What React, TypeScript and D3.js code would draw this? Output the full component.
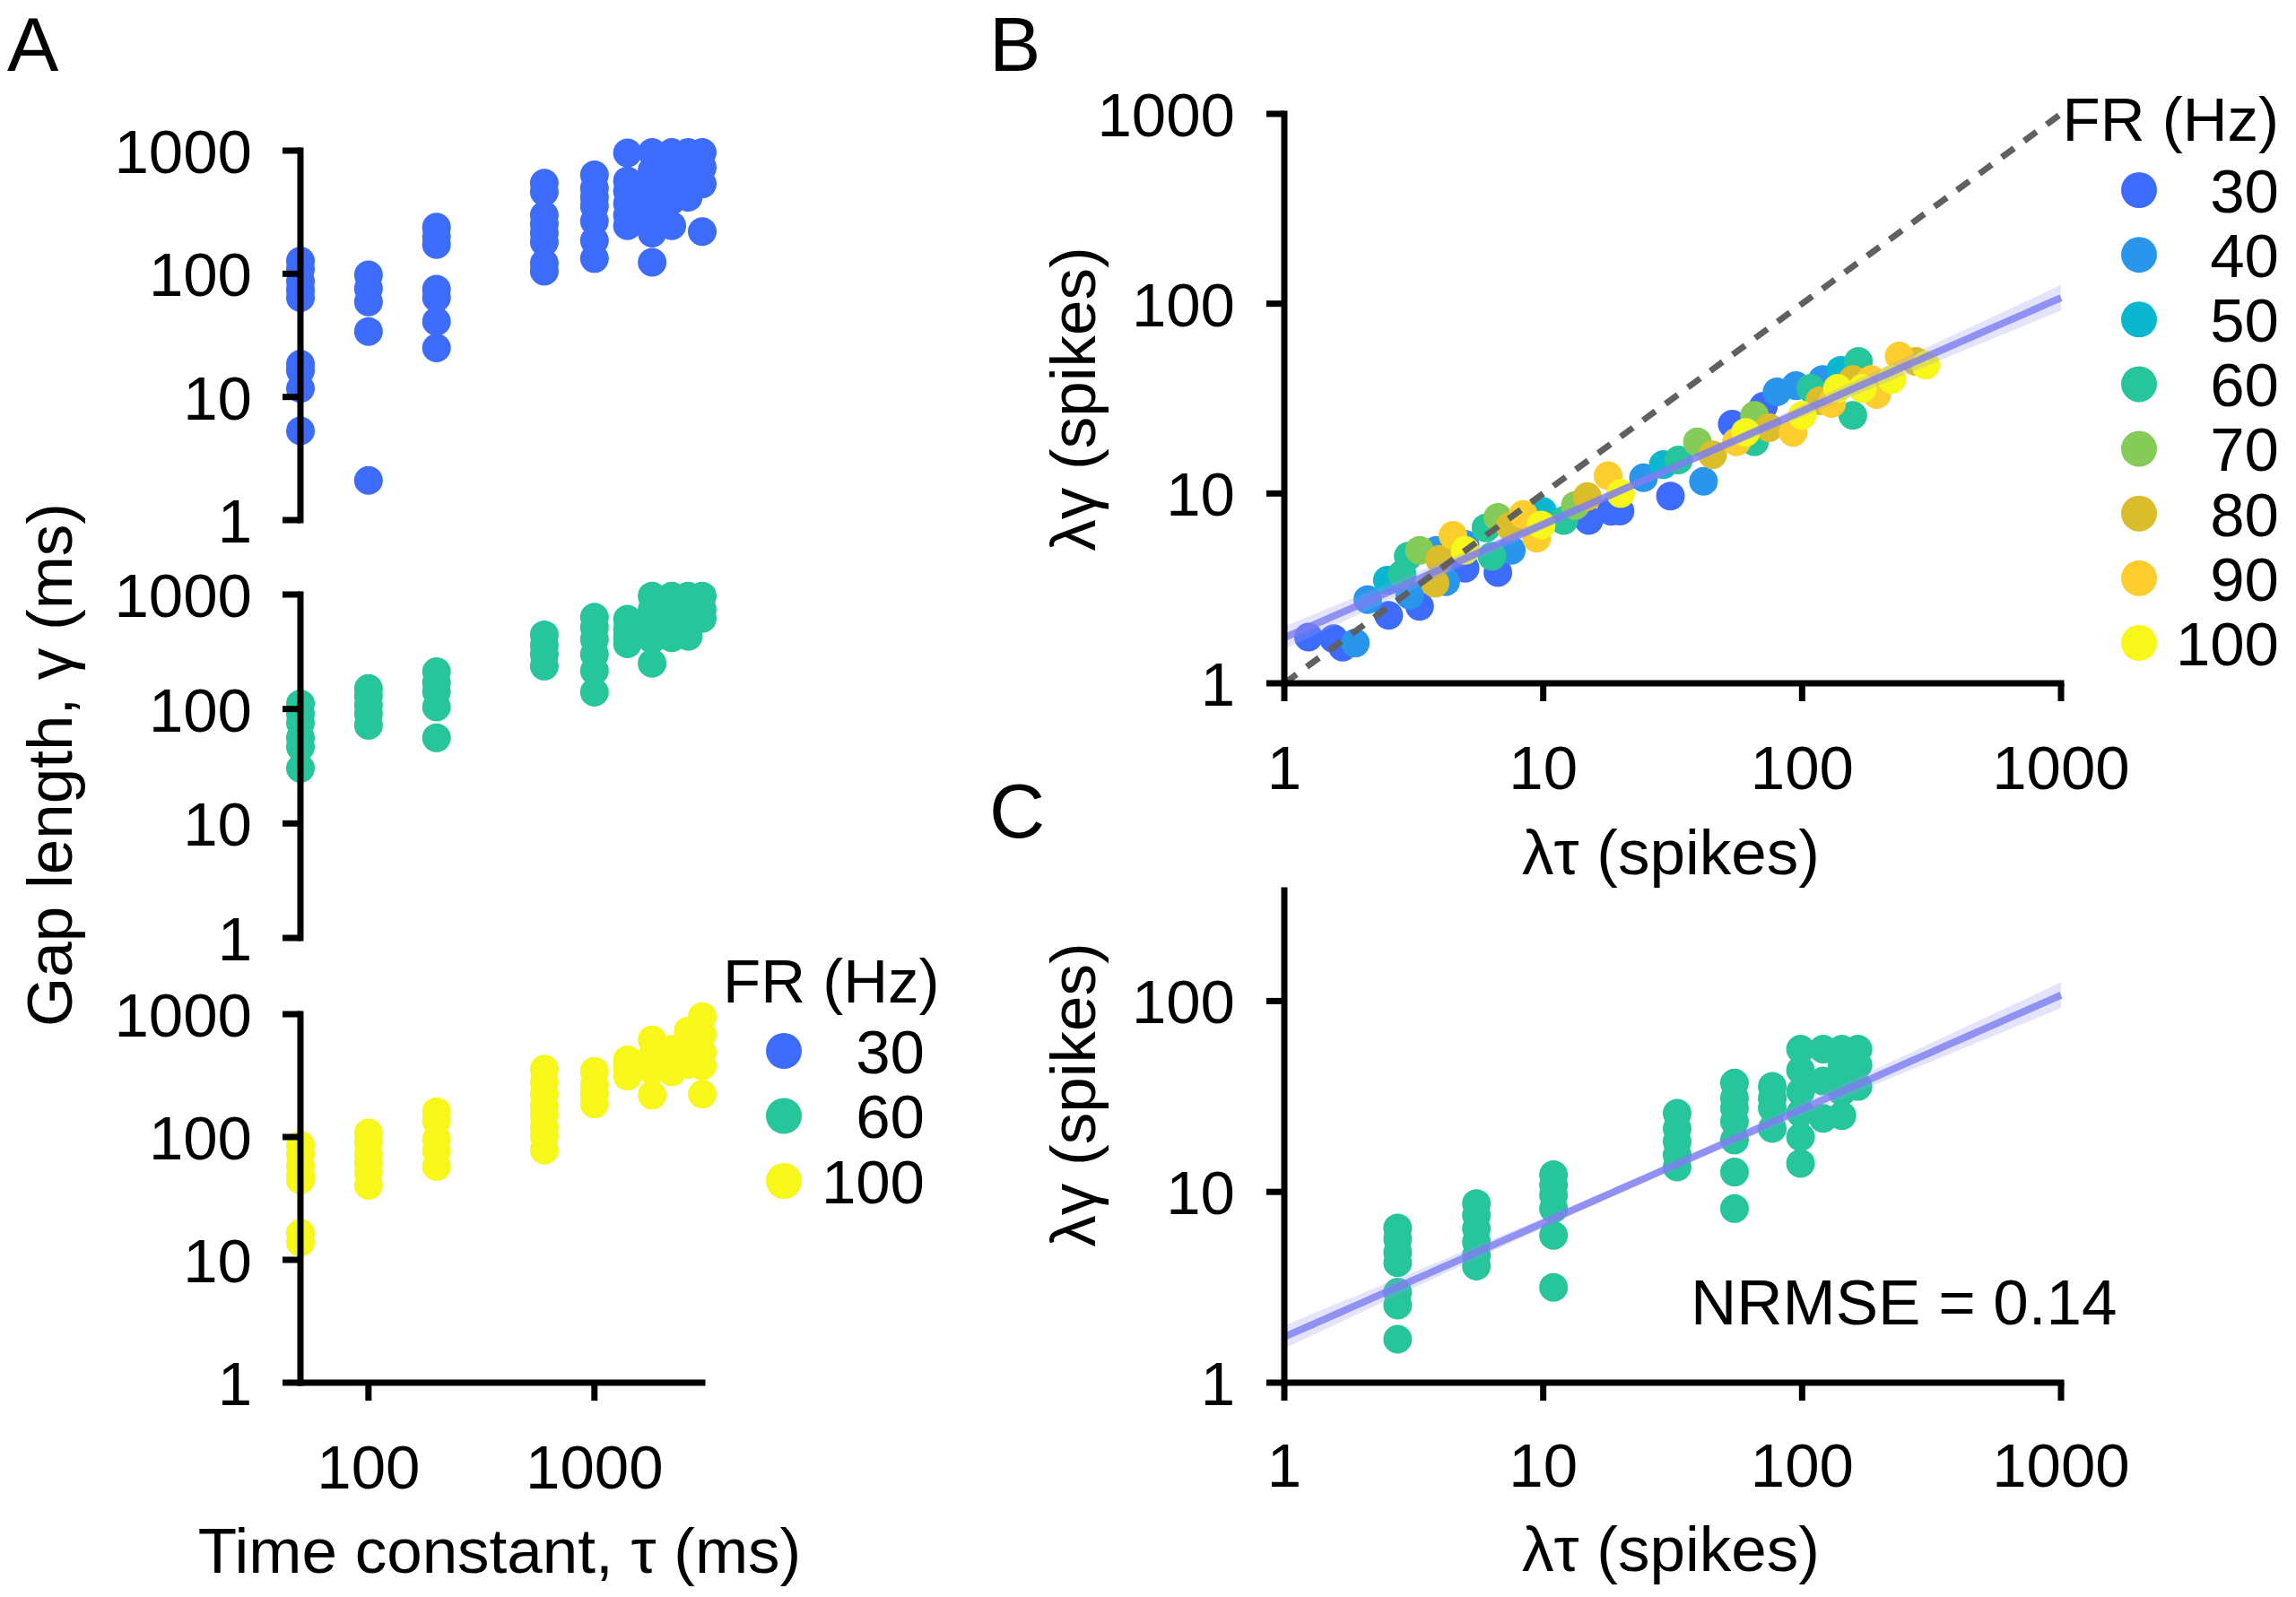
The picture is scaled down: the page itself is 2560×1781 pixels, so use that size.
import React from "react";
import * as d3 from "d3";

const W = 2560;
const H = 1781;

// ---------- Panel A data: gap length γ (ms) per time constant τ (ms) ----------
const tauValues = [50, 100, 200, 600, 1000, 1400, 1800, 2200, 2600, 3000];

const gapFR30 = [
  [127, 109, 87, 74, 64, 18.5, 16.4, 11.7, 5.3],
  [98, 76, 59, 34, 2.1],
  [239, 202, 173, 75, 64, 41, 25],
  [544, 462, 299, 253, 214, 181, 122, 105],
  [636, 495, 418, 354, 267, 186, 133],
  [957, 569, 468, 374, 299, 246],
  [967, 692, 522, 395, 299, 214, 124],
  [967, 731, 522, 395, 246],
  [967, 731, 537, 418],
  [967, 731, 537, 220],
];

const gapFR60 = [
  [111, 90.5, 75.5, 56, 46.7, 30.3],
  [151, 130, 108, 90.5, 72],
  [212, 170, 142, 104, 56],
  [445, 360, 301, 237],
  [634, 517, 406, 301, 216, 140],
  [608, 501, 431, 371],
  [971, 741, 548, 406, 251],
  [971, 741, 548, 419],
  [971, 741, 582, 431],
  [971, 741, 618],
];

const gapFR100 = [
  [86, 72.6, 58, 49, 44.6, 16.5, 13.9],
  [108, 91, 72.6, 61.4, 51.9, 40.4],
  [161, 135, 96, 76.9, 57.4],
  [357, 279, 223, 178, 151, 120, 102, 78],
  [343, 264, 223, 186],
  [425, 369, 312],
  [618, 461, 349, 219],
  [516, 413, 339],
  [731, 546, 390],
  [956, 684, 488, 379, 223],
];

const legendA = ["30", "60", "100"];
const colorA = ["#3d6cfc", "#27c59c", "#f7f71a"];

// ---------- Panel B data: [λτ, λγ] (spikes) per firing rate ----------
const frLabels = ["30", "40", "50", "60", "70", "80", "90", "100"];
const frColors = ["#3d6cfc", "#2996ec", "#0ab6d0", "#27c59c", "#84cb58", "#dbbd2c", "#fccd2c", "#f7f71a"];

const bFR30 = [[1.24, 1.75], [1.55, 1.72], [1.68, 1.55], [2.53, 2.28], [3.33, 2.54], [4.99, 4.04], [6.68, 3.83], [15.0, 7.21], [18.3, 8.05], [19.8, 8.07], [31.0, 9.7], [53.7, 23.2], [70.9, 28.8]];
const bFR40 = [[1.88, 1.63], [2.1, 2.76], [3.05, 2.91], [3.87, 5.02], [4.2, 3.43], [4.99, 5.4], [7.53, 5.02], [24.4, 12.1], [41.6, 11.6], [80.0, 34.3], [94.6, 37.0], [120, 39.9]];
const bFR50 = [[2.5, 3.49], [9.95, 8.05], [29.1, 14.2], [141, 44.6]];
const bFR60 = [[2.85, 3.76], [3.01, 4.67], [6.01, 6.59], [6.34, 4.67], [12.0, 7.21], [33.3, 15.0], [65.5, 18.7], [108, 35.8], [157, 25.8], [165, 49.6]];
const bFR70 = [[3.33, 5.02], [6.68, 7.48], [13.3, 8.65], [39.4, 18.7], [65.5, 25.8]];
const bFR80 = [[3.82, 3.37], [3.98, 4.5], [7.43, 6.71], [14.8, 9.64], [45.1, 16.0], [74.5, 22.2], [117, 30.8], [157, 39.9], [275, 49.6]];
const bFR90 = [[4.48, 6.02], [8.37, 7.76], [9.44, 5.81], [17.8, 12.4], [55.8, 18.7], [92.3, 21.0], [130, 29.8], [185, 39.9], [194, 33.2], [237, 53]];
const bFR100 = [[4.99, 5.02], [9.82, 6.83], [19.9, 10.0], [60.5, 21.0], [100, 25.8], [137, 35.8], [171, 35.8], [222, 39.9], [300, 47.5]];

// ---------- Panel C data (FR 60 Hz): λτ per column, λγ values ----------
const cLambdaTau = [2.74, 5.52, 10.96, 32.9, 54.8, 76.7, 98.6, 120.6, 142.5, 164.4];
const cLambdaGap = [
  [6.47, 5.68, 4.83, 4.25, 2.98, 2.55, 1.69],
  [8.69, 7.54, 6.41, 5.46, 4.64, 4.08],
  [12.3, 10.8, 9.6, 8.17, 5.92, 3.16],
  [25.8, 21.5, 18.3, 15.6, 13.5],
  [37.2, 31.0, 27.5, 23.4, 18.7, 12.7, 8.17],
  [35.7, 31.0, 27.5, 21.5],
  [56, 43.4, 33.5, 25.9, 19.4, 14.1],
  [56, 38.1, 24.3],
  [56, 46.2, 33.5, 25.1],
  [56, 46.2, 35.7],
];

// ---------- Fit (log-log regression) and its confidence band ----------
const fitIntercept = 0.24; // log10 λγ at λτ = 1
const fitSlope = 0.597;
const ciMin = 0.02;
const ciCenter = 1.4;
const ciSpread = 0.00163;

const ticksA = [1, 10, 100, 1000];
const ticksAx = [100, 1000];
const ticksB = [1, 10, 100, 1000];
const ticksCy = [1, 10, 100];

const FONT = "'Liberation Sans', Arial, Helvetica, sans-serif";
const FS = 69;
const FT = 71;
const SW = 7;
const TL = 20;
const R = 16;

function YAxis({ scale, x, ticks, labelRight }: any) {
  const [d0, d1] = scale.domain();
  return (
    <g>
      <line x1={x} x2={x} y1={scale(d1) - SW / 2} y2={scale(d0) + SW / 2} stroke="#000" strokeWidth={SW} />
      {ticks.map((t: number) => (
        <g key={t}>
          <line x1={x - TL} x2={x} y1={scale(t)} y2={scale(t)} stroke="#000" strokeWidth={SW} />
          <text x={labelRight} y={scale(t)} dy="0.36em" textAnchor="end" fontSize={FS} fontFamily={FONT}>
            {t}
          </text>
        </g>
      ))}
    </g>
  );
}

function XAxis({ scale, y, ticks, labelBaseline }: any) {
  const [r0, r1] = scale.range();
  return (
    <g>
      <line x1={r0 - SW / 2} x2={r1 + SW / 2} y1={y} y2={y} stroke="#000" strokeWidth={SW} />
      {ticks.map((t: number) => (
        <g key={t}>
          <line x1={scale(t)} x2={scale(t)} y1={y} y2={y + TL} stroke="#000" strokeWidth={SW} />
          <text x={scale(t)} y={labelBaseline} textAnchor="middle" fontSize={FS} fontFamily={FONT}>
            {t}
          </text>
        </g>
      ))}
    </g>
  );
}

function FitBand({ xs, ys }: any) {
  const grid = d3.range(0, 3.0001, 0.05);
  const hw = (u: number) => Math.sqrt(ciMin * ciMin + ciSpread * (u - ciCenter) * (u - ciCenter));
  const area = d3
    .area<number>()
    .x((u) => xs(Math.pow(10, u)))
    .y0((u) => ys(Math.pow(10, fitIntercept + fitSlope * u - hw(u))))
    .y1((u) => ys(Math.pow(10, fitIntercept + fitSlope * u + hw(u))));
  const line = d3
    .line<number>()
    .x((u) => xs(Math.pow(10, u)))
    .y((u) => ys(Math.pow(10, fitIntercept + fitSlope * u)));
  return (
    <g>
      <path d={area(grid) || ""} fill="#9a9af5" fillOpacity={0.28} />
      <path d={line(grid) || ""} fill="none" stroke="#7c7cf0" strokeOpacity={0.8} strokeWidth={8} />
    </g>
  );
}

export default function App() {
  // Panel A scales
  const xA = d3.scaleLog().domain([50, 3000]).range([335, 783]);
  const yTop = d3.scaleLog().domain([1, 1000]).range([580, 168]);
  const yMid = d3.scaleLog().domain([1, 1000]).range([1046, 663]);
  const yBot = d3.scaleLog().domain([1, 1000]).range([1542, 1131]);
  const subA = [
    { y: yTop, data: gapFR30, color: colorA[0] },
    { y: yMid, data: gapFR60, color: colorA[1] },
    { y: yBot, data: gapFR100, color: colorA[2] },
  ];

  // Panel B scales
  const xB = d3.scaleLog().domain([1, 1000]).range([1432, 2298]);
  const yB = d3.scaleLog().domain([1, 1000]).range([762, 127]);
  const bSeries = [bFR30, bFR40, bFR50, bFR60, bFR70, bFR80, bFR90, bFR100];
  const legendBY = d3.scaleLinear().domain([0, 7]).range([212, 717]);

  // Panel C scales
  const xC = d3.scaleLog().domain([1, 1000]).range([1432, 2298]);
  const yC = d3.scaleLog().domain([1, 380]).range([1542, 993]);

  const legendAY = d3.scaleLinear().domain([0, 2]).range([1172, 1317]);

  return (
    <svg
      width={W}
      height={H}
      viewBox={`0 0 ${W} ${H}`}
      style={{ display: "block", position: "absolute", left: 0, top: 0, background: "#fff" }}
    >
      <rect x={0} y={0} width={W} height={H} fill="#fff" />

      {/* Panel letters */}
      <text x={8} y={79} fontSize={86} fontFamily={FONT}>A</text>
      <text x={1103} y={79} fontSize={86} fontFamily={FONT}>B</text>
      <text x={1103} y={934} fontSize={86} fontFamily={FONT}>C</text>

      {/* ---------- Panel A ---------- */}
      {subA.map((s, i) => (
        <g key={i}>
          {s.data.map((col, j) =>
            col.map((v, k) => <circle key={`${j}-${k}`} cx={xA(tauValues[j])} cy={s.y(v)} r={R} fill={s.color} />)
          )}
          <YAxis scale={s.y} x={335} ticks={ticksA} labelRight={281} />
        </g>
      ))}
      <XAxis scale={xA} y={1542} ticks={ticksAx} labelBaseline={1660} />
      <text x={557} y={1754} textAnchor="middle" fontSize={FT} fontFamily={FONT}>
        Time constant, τ (ms)
      </text>
      <text transform={`translate(80,853) rotate(-90)`} textAnchor="middle" fontSize={FT} fontFamily={FONT}>
        Gap length, γ (ms)
      </text>
      <text x={806} y={1118} fontSize={FS} fontFamily={FONT}>FR (Hz)</text>
      {legendA.map((l, i) => (
        <g key={l}>
          <circle cx={874} cy={legendAY(i)} r={20} fill={colorA[i]} />
          <text x={1031} y={legendAY(i)} dy="0.36em" textAnchor="end" fontSize={FS} fontFamily={FONT}>
            {l}
          </text>
        </g>
      ))}

      {/* ---------- Panel B ---------- */}
      {bSeries.map((pts, i) => (
        <g key={i}>
          {pts.map((p, k) => (
            <circle key={k} cx={xB(p[0])} cy={yB(p[1])} r={R} fill={frColors[i]} />
          ))}
        </g>
      ))}
      <FitBand xs={xB} ys={yB} />
      <line x1={xB(1)} y1={yB(1)} x2={xB(1000)} y2={yB(1000)} stroke="#606060" strokeWidth={7} strokeDasharray="17 14" />
      <YAxis scale={yB} x={1432} ticks={ticksB} labelRight={1377} />
      <XAxis scale={xB} y={762} ticks={ticksB} labelBaseline={880} />
      <text x={1863} y={975} textAnchor="middle" fontSize={FT} fontFamily={FONT}>λτ (spikes)</text>
      <text transform={`translate(1221,445) rotate(-90)`} textAnchor="middle" fontSize={FT} fontFamily={FONT}>
        λγ (spikes)
      </text>
      <text x={2541} y={157} textAnchor="end" fontSize={FS} fontFamily={FONT}>FR (Hz)</text>
      {frLabels.map((l, i) => (
        <g key={l}>
          <circle cx={2385} cy={legendBY(i)} r={20} fill={frColors[i]} />
          <text x={2541} y={legendBY(i)} dy="0.36em" textAnchor="end" fontSize={FS} fontFamily={FONT}>
            {l}
          </text>
        </g>
      ))}

      {/* ---------- Panel C ---------- */}
      {cLambdaGap.map((col, j) =>
        col.map((v, k) => <circle key={`${j}-${k}`} cx={xC(cLambdaTau[j])} cy={yC(v)} r={R} fill={frColors[3]} />)
      )}
      <FitBand xs={xC} ys={yC} />
      <YAxis scale={yC} x={1432} ticks={ticksCy} labelRight={1377} />
      <XAxis scale={xC} y={1542} ticks={ticksB} labelBaseline={1658} />
      <text x={1863} y={1752} textAnchor="middle" fontSize={FT} fontFamily={FONT}>λτ (spikes)</text>
      <text transform={`translate(1221,1221) rotate(-90)`} textAnchor="middle" fontSize={FT} fontFamily={FONT}>
        λγ (spikes)
      </text>
      <text x={1885} y={1477} fontSize={FT} fontFamily={FONT}>NRMSE = 0.14</text>
    </svg>
  );
}
